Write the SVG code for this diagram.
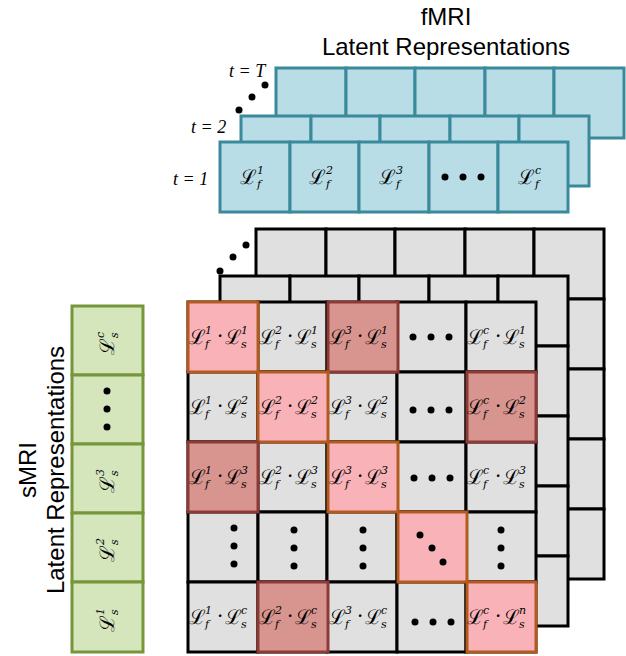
<svg xmlns="http://www.w3.org/2000/svg" width="626" height="656" viewBox="0 0 626 656">
<style>
.b{fill:#b8dde6;stroke:#3a8a9c;stroke-width:3}
.g{fill:#e0e0e0;stroke:#000;stroke-width:3}
.gr{fill:#d5e5bc;stroke:#76963a;stroke-width:3}
.p{fill:#f9b3b8;stroke:#b35a1f;stroke-width:3}
.d{fill:#d8948f;stroke:#8b3a36;stroke-width:3}
.L{font:20px 'DejaVu Serif',serif;fill:#000}
.s{font:italic 11px 'DejaVu Serif',serif;fill:#000}
.t{font:italic 18px 'Liberation Serif',serif;fill:#000}
.h{font:24px 'Liberation Sans',Arial,sans-serif;fill:#000;text-anchor:middle}
</style>
<defs>
<g id="rowb"><rect class="b" x="0" y="0" width="70" height="70"/><rect class="b" x="70" y="0" width="69" height="70"/><rect class="b" x="139" y="0" width="70" height="70"/><rect class="b" x="209" y="0" width="69" height="70"/><rect class="b" x="278" y="0" width="70" height="70"/></g>
<g id="rowg"><rect class="g" x="0" y="0" width="70" height="70"/><rect class="g" x="70" y="0" width="69" height="70"/><rect class="g" x="139" y="0" width="70" height="70"/><rect class="g" x="209" y="0" width="69" height="70"/><rect class="g" x="278" y="0" width="70" height="70"/></g>
<g id="grid"><use href="#rowg" y="0"/><use href="#rowg" y="70"/><use href="#rowg" y="140"/><use href="#rowg" y="210"/><use href="#rowg" y="280"/></g>
</defs>
<text class="h" x="446" y="25">fMRI</text>
<text class="h" x="446" y="55">Latent Representations</text>
<g id="fmri">
<use href="#rowb" x="276" y="68"/>
<use href="#rowb" x="241" y="116"/>
<use href="#rowb" x="220" y="142"/>
<text class="t" x="229" y="77">t = T</text>
<text class="t" x="191" y="133">t = 2</text>
<text class="t" x="173" y="185">t = 1</text>
<circle cx="265" cy="85" r="3.5"/><circle cx="252" cy="97" r="3.5"/><circle cx="239" cy="110" r="3.5"/>
<g transform="translate(255,177)"><text class="L" x="-15" y="7">ℒ</text><text class="s" x="2" y="-3">1</text><text class="s" x="2" y="11">f</text></g>
<g transform="translate(324,177)"><text class="L" x="-15" y="7">ℒ</text><text class="s" x="2" y="-3">2</text><text class="s" x="2" y="11">f</text></g>
<g transform="translate(394,177)"><text class="L" x="-15" y="7">ℒ</text><text class="s" x="2" y="-3">3</text><text class="s" x="2" y="11">f</text></g>
<circle cx="445" cy="177" r="3.5"/><circle cx="463" cy="177" r="3.5"/><circle cx="481" cy="177" r="3.5"/>
<g transform="translate(533,177)"><text class="L" x="-15" y="7">ℒ</text><text class="s" x="2" y="-3">c</text><text class="s" x="2" y="11">f</text></g>
</g>
<g id="matrix">
<use href="#grid" x="256" y="229"/>
<use href="#grid" x="220" y="276"/>
<circle cx="246" cy="245" r="3.5"/><circle cx="233" cy="257" r="3.5"/><circle cx="220" cy="271" r="3.5"/>
<use href="#grid" x="188" y="302"/>
<rect class="p" x="188" y="302" width="70" height="70"/>
<rect class="d" x="328" y="302" width="70" height="70"/>
<rect class="p" x="258" y="372" width="70" height="70"/>
<rect class="d" x="467" y="372" width="69" height="70"/>
<rect class="d" x="188" y="442" width="70" height="70"/>
<rect class="p" x="328" y="442" width="70" height="70"/>
<rect class="p" x="398" y="512" width="69" height="70"/>
<rect class="d" x="258" y="582" width="70" height="70"/>
<rect class="p" x="467" y="582" width="69" height="70"/>
<g id="cells">
<g transform="translate(223,337)"><text class="L" x="-34" y="7">ℒ</text><text class="s" x="-18" y="-3">1</text><text class="s" x="-18" y="11">f</text><text class="L" x="-6" y="6">·</text><text class="L" x="2" y="7">ℒ</text><text class="s" x="18" y="-3">1</text><text class="s" x="18" y="11">s</text></g>
<g transform="translate(293,337)"><text class="L" x="-34" y="7">ℒ</text><text class="s" x="-18" y="-3">2</text><text class="s" x="-18" y="11">f</text><text class="L" x="-6" y="6">·</text><text class="L" x="2" y="7">ℒ</text><text class="s" x="18" y="-3">1</text><text class="s" x="18" y="11">s</text></g>
<g transform="translate(363,337)"><text class="L" x="-34" y="7">ℒ</text><text class="s" x="-18" y="-3">3</text><text class="s" x="-18" y="11">f</text><text class="L" x="-6" y="6">·</text><text class="L" x="2" y="7">ℒ</text><text class="s" x="18" y="-3">1</text><text class="s" x="18" y="11">s</text></g>
<g transform="translate(501,337)"><text class="L" x="-34" y="7">ℒ</text><text class="s" x="-18" y="-3">c</text><text class="s" x="-18" y="11">f</text><text class="L" x="-6" y="6">·</text><text class="L" x="2" y="7">ℒ</text><text class="s" x="18" y="-3">1</text><text class="s" x="18" y="11">s</text></g>
<g transform="translate(223,407)"><text class="L" x="-34" y="7">ℒ</text><text class="s" x="-18" y="-3">1</text><text class="s" x="-18" y="11">f</text><text class="L" x="-6" y="6">·</text><text class="L" x="2" y="7">ℒ</text><text class="s" x="18" y="-3">2</text><text class="s" x="18" y="11">s</text></g>
<g transform="translate(293,407)"><text class="L" x="-34" y="7">ℒ</text><text class="s" x="-18" y="-3">2</text><text class="s" x="-18" y="11">f</text><text class="L" x="-6" y="6">·</text><text class="L" x="2" y="7">ℒ</text><text class="s" x="18" y="-3">2</text><text class="s" x="18" y="11">s</text></g>
<g transform="translate(363,407)"><text class="L" x="-34" y="7">ℒ</text><text class="s" x="-18" y="-3">3</text><text class="s" x="-18" y="11">f</text><text class="L" x="-6" y="6">·</text><text class="L" x="2" y="7">ℒ</text><text class="s" x="18" y="-3">2</text><text class="s" x="18" y="11">s</text></g>
<g transform="translate(501,407)"><text class="L" x="-34" y="7">ℒ</text><text class="s" x="-18" y="-3">c</text><text class="s" x="-18" y="11">f</text><text class="L" x="-6" y="6">·</text><text class="L" x="2" y="7">ℒ</text><text class="s" x="18" y="-3">2</text><text class="s" x="18" y="11">s</text></g>
<g transform="translate(223,477)"><text class="L" x="-34" y="7">ℒ</text><text class="s" x="-18" y="-3">1</text><text class="s" x="-18" y="11">f</text><text class="L" x="-6" y="6">·</text><text class="L" x="2" y="7">ℒ</text><text class="s" x="18" y="-3">3</text><text class="s" x="18" y="11">s</text></g>
<g transform="translate(293,477)"><text class="L" x="-34" y="7">ℒ</text><text class="s" x="-18" y="-3">2</text><text class="s" x="-18" y="11">f</text><text class="L" x="-6" y="6">·</text><text class="L" x="2" y="7">ℒ</text><text class="s" x="18" y="-3">3</text><text class="s" x="18" y="11">s</text></g>
<g transform="translate(363,477)"><text class="L" x="-34" y="7">ℒ</text><text class="s" x="-18" y="-3">3</text><text class="s" x="-18" y="11">f</text><text class="L" x="-6" y="6">·</text><text class="L" x="2" y="7">ℒ</text><text class="s" x="18" y="-3">3</text><text class="s" x="18" y="11">s</text></g>
<g transform="translate(501,477)"><text class="L" x="-34" y="7">ℒ</text><text class="s" x="-18" y="-3">c</text><text class="s" x="-18" y="11">f</text><text class="L" x="-6" y="6">·</text><text class="L" x="2" y="7">ℒ</text><text class="s" x="18" y="-3">3</text><text class="s" x="18" y="11">s</text></g>
<g transform="translate(223,617)"><text class="L" x="-34" y="7">ℒ</text><text class="s" x="-18" y="-3">1</text><text class="s" x="-18" y="11">f</text><text class="L" x="-6" y="6">·</text><text class="L" x="2" y="7">ℒ</text><text class="s" x="18" y="-3">c</text><text class="s" x="18" y="11">s</text></g>
<g transform="translate(293,617)"><text class="L" x="-34" y="7">ℒ</text><text class="s" x="-18" y="-3">2</text><text class="s" x="-18" y="11">f</text><text class="L" x="-6" y="6">·</text><text class="L" x="2" y="7">ℒ</text><text class="s" x="18" y="-3">c</text><text class="s" x="18" y="11">s</text></g>
<g transform="translate(363,617)"><text class="L" x="-34" y="7">ℒ</text><text class="s" x="-18" y="-3">3</text><text class="s" x="-18" y="11">f</text><text class="L" x="-6" y="6">·</text><text class="L" x="2" y="7">ℒ</text><text class="s" x="18" y="-3">c</text><text class="s" x="18" y="11">s</text></g>
<g transform="translate(501,617)"><text class="L" x="-34" y="7">ℒ</text><text class="s" x="-18" y="-3">c</text><text class="s" x="-18" y="11">f</text><text class="L" x="-6" y="6">·</text><text class="L" x="2" y="7">ℒ</text><text class="s" x="18" y="-3">n</text><text class="s" x="18" y="11">s</text></g>
</g>
<g id="dots">
<circle cx="413" cy="337" r="3.5"/><circle cx="431" cy="337" r="3.5"/><circle cx="449" cy="337" r="3.5"/>
<circle cx="413" cy="410" r="3.5"/><circle cx="431" cy="410" r="3.5"/><circle cx="449" cy="410" r="3.5"/>
<circle cx="414" cy="478" r="3.5"/><circle cx="432" cy="478" r="3.5"/><circle cx="450" cy="478" r="3.5"/>
<circle cx="415" cy="622" r="3.5"/><circle cx="433" cy="622" r="3.5"/><circle cx="451" cy="622" r="3.5"/>
<circle cx="234" cy="528" r="3.5"/><circle cx="234" cy="546" r="3.5"/><circle cx="234" cy="564" r="3.5"/>
<circle cx="294" cy="530" r="3.5"/><circle cx="294" cy="548" r="3.5"/><circle cx="294" cy="566" r="3.5"/>
<circle cx="363" cy="530" r="3.5"/><circle cx="363" cy="548" r="3.5"/><circle cx="363" cy="566" r="3.5"/>
<circle cx="501" cy="530" r="3.5"/><circle cx="501" cy="548" r="3.5"/><circle cx="501" cy="566" r="3.5"/>
<circle cx="420" cy="535" r="3.5"/><circle cx="432" cy="548" r="3.5"/><circle cx="443" cy="562" r="3.5"/>
</g>
</g>
<g id="smri">
<rect class="gr" x="72" y="306" width="71" height="69"/>
<rect class="gr" x="72" y="375" width="71" height="69"/>
<rect class="gr" x="72" y="444" width="71" height="69"/>
<rect class="gr" x="72" y="513" width="71" height="69"/>
<rect class="gr" x="72" y="582" width="71" height="70"/>
<g transform="translate(107,340) rotate(-90)"><text class="L" x="-15" y="7">ℒ</text><text class="s" x="2" y="-3">c</text><text class="s" x="2" y="11">s</text></g>
<circle cx="107" cy="391" r="3.5"/><circle cx="107" cy="409" r="3.5"/><circle cx="107" cy="427" r="3.5"/>
<g transform="translate(107,478) rotate(-90)"><text class="L" x="-15" y="7">ℒ</text><text class="s" x="2" y="-3">3</text><text class="s" x="2" y="11">s</text></g>
<g transform="translate(107,547) rotate(-90)"><text class="L" x="-15" y="7">ℒ</text><text class="s" x="2" y="-3">2</text><text class="s" x="2" y="11">s</text></g>
<g transform="translate(107,617) rotate(-90)"><text class="L" x="-15" y="7">ℒ</text><text class="s" x="2" y="-3">1</text><text class="s" x="2" y="11">s</text></g>
<text class="h" transform="translate(36,470) rotate(-90)">sMRI</text>
<text class="h" transform="translate(64,470) rotate(-90)">Latent Representations</text>
</g>
</svg>
